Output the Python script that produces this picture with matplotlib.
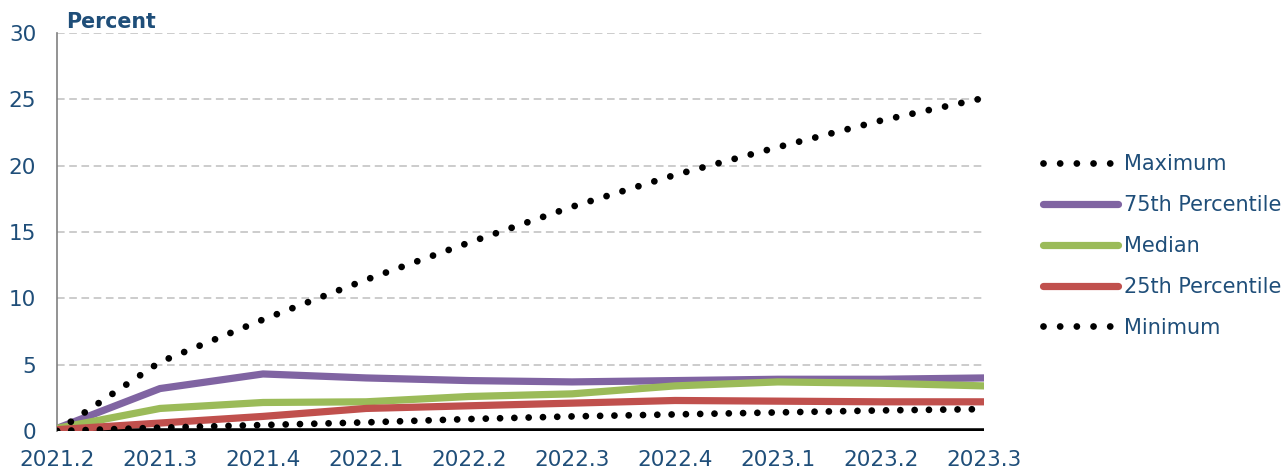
import matplotlib
matplotlib.use("Agg")
import matplotlib.pyplot as plt
from matplotlib.lines import Line2D
import numpy as np

categories = ["2021.2", "2021.3", "2021.4", "2022.1", "2022.2", "2022.3",
              "2022.4", "2023.1", "2023.2", "2023.3"]
maximum = [0.0, 5.2, 8.4, 11.4, 14.2, 16.9, 19.3, 21.4, 23.4, 25.1]
p75 = [0.2, 3.2, 4.3, 4.0, 3.8, 3.7, 3.8, 3.9, 3.9, 4.0]
median = [0.2, 1.7, 2.15, 2.2, 2.6, 2.8, 3.4, 3.7, 3.6, 3.4]
p25 = [0.1, 0.6, 1.1, 1.7, 1.9, 2.1, 2.3, 2.25, 2.2, 2.2]
minimum = [0.0, 0.25, 0.45, 0.65, 0.9, 1.1, 1.25, 1.4, 1.55, 1.65]
yticks = [0, 5, 10, 15, 20, 25, 30]
labels = ["Maximum", "75th Percentile", "Median", "25th Percentile", "Minimum"]
colors = ["black", "#8064A2", "#9BBB59", "#C0504D", "black"]

txt = "#1F4E79"
plt.rcParams['font.family'] = ['DejaVu Sans']

fig = plt.figure(figsize=(12.88, 4.70), dpi=100)
ax = fig.add_axes([57/1288, 1-431/470, (984-57)/1288, (431-33)/470])
x = np.arange(len(categories))

dot_lw = 4.9
ax.plot(x, maximum, color=colors[0], lw=dot_lw, linestyle=(0, (0.001, 2.45)),
        dash_capstyle="round", zorder=5)
ax.plot(x, p75, color=colors[1], lw=5.2, solid_capstyle="round", zorder=4)
ax.plot(x, median, color=colors[2], lw=5.2, solid_capstyle="round", zorder=4)
ax.plot(x, p25, color=colors[3], lw=5.2, solid_capstyle="round", zorder=4)
ax.plot(x, minimum, color=colors[4], lw=dot_lw, linestyle=(0, (0.001, 2.1)),
        dash_capstyle="round", zorder=5)

ax.axhline(0, color="black", lw=4, zorder=3)

ax.set_xlim(0, len(categories) - 1)
ax.set_ylim(0, 30)
ax.set_yticks(yticks)
ax.set_xticks(x)
ax.set_xticklabels(categories)
for yv in yticks[1:]:
    ax.axhline(yv, color="#BFBFBF", lw=1.1, linestyle=(0, (5, 3)), zorder=1)

for s in ["top", "right", "bottom"]:
    ax.spines[s].set_visible(False)
ax.spines["left"].set_color("#808080")
ax.spines["left"].set_linewidth(1.2)
ax.tick_params(axis="both", length=0, labelsize=15.5, labelcolor=txt)
ax.tick_params(axis="y", pad=15)
ax.tick_params(axis="x", pad=14)

fig.text(66/1288, 1-22/470, "Percent", fontsize=14.8, fontweight="bold", color=txt,
         va="center", ha="left")

handles = []
for lab, col in zip(labels, colors):
    if col == "black":
        handles.append(Line2D([], [], color=col, lw=dot_lw, linestyle=(0, (0.001, 2.45)),
                              dash_capstyle="round"))
    else:
        handles.append(Line2D([], [], color=col, lw=5.2, solid_capstyle="round"))

leg = fig.legend(handles, labels, loc="center left", bbox_to_anchor=(1043/1288, 1-246/470),
                 frameon=False, fontsize=15, labelcolor=txt, handlelength=3.6,
                 handletextpad=0.3, labelspacing=1.0, borderpad=0, borderaxespad=0)

fig.savefig("out.png", dpi=100)
